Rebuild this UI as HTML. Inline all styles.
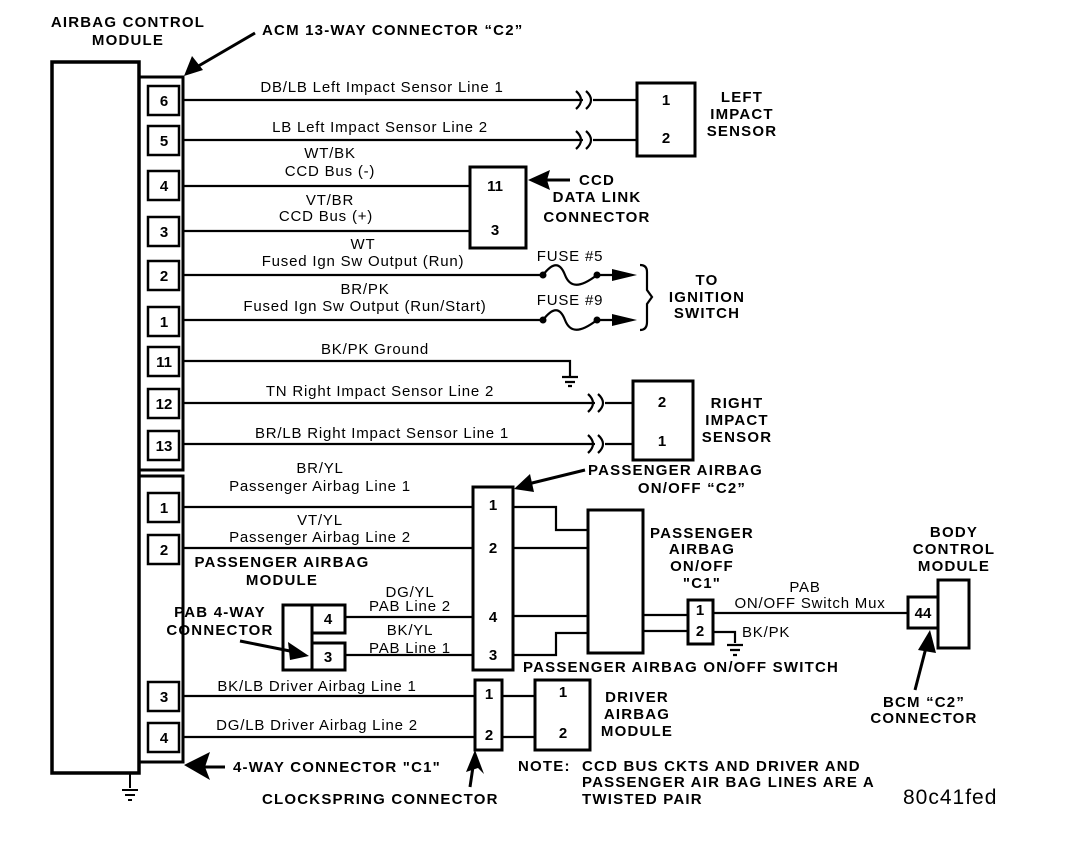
<!DOCTYPE html>
<html><head><meta charset="utf-8"><style>
html,body{margin:0;padding:0;background:#fff}
svg{display:block}
text{font-family:"Liberation Sans",Arial,sans-serif;fill:#000}
.b{font-weight:bold;font-size:15px;letter-spacing:1.2px}
.r{font-size:15px;letter-spacing:0.8px}
.p{font-weight:bold;font-size:15px}
</style></head><body>
<svg width="1088" height="862" viewBox="0 0 1088 862" xmlns="http://www.w3.org/2000/svg">
<g fill="none" stroke="#000">
<rect x="52" y="62" width="87" height="711" stroke-width="3.5"/>
<path d="M139 77 H183 V470 H139" stroke-width="3"/>
<path d="M139 476 H183 V762 H139" stroke-width="3"/>
<path d="M130 773 V788 M122 790 H138 M125 795 H135 M128 800 H132" stroke-width="2"/>
<g stroke-width="2.5">
<rect x="148" y="86" width="31" height="29"/>
<rect x="148" y="126" width="31" height="29"/>
<rect x="148" y="171" width="31" height="29"/>
<rect x="148" y="217" width="31" height="29"/>
<rect x="148" y="261" width="31" height="29"/>
<rect x="148" y="307" width="31" height="29"/>
<rect x="148" y="347" width="31" height="29"/>
<rect x="148" y="389" width="31" height="29"/>
<rect x="148" y="431" width="31" height="29"/>
<rect x="148" y="493" width="31" height="29"/>
<rect x="148" y="535" width="31" height="29"/>
<rect x="148" y="682" width="31" height="29"/>
<rect x="148" y="723" width="31" height="29"/>
</g>
<g stroke-width="2.2">
<path d="M183 100 H583 M593 100 H637"/>
<path d="M183 140 H583 M593 140 H637"/>
<path d="M576 91 Q586 100 576 109 M586 91 Q596 100 586 109"/>
<path d="M576 131 Q586 140 576 149 M586 131 Q596 140 586 149"/>
<path d="M183 186 H470 M183 231 H470"/>
<path d="M183 275 H543 M183 320 H543"/>
<path d="M543 275 C553 262 560 262 565 275 C570 288 580 288 597 275 H615"/>
<path d="M543 320 C553 307 560 307 565 320 C570 333 580 333 597 320 H615"/>
<path d="M183 361 H570 V376 M562 377 H578 M565 382 H575 M568 386 H572"/>
<path d="M183 403 H595 M605 403 H633"/>
<path d="M183 444 H595 M605 444 H633"/>
<path d="M588 394 Q598 403 588 412 M598 394 Q608 403 598 412"/>
<path d="M588 435 Q598 444 588 453 M598 435 Q608 444 598 453"/>
<path d="M640 265 Q647 265 647 272 V290 L652 297 L647 304 V322 Q647 330 640 330"/>
<path d="M183 507 H473 M183 548 H473 M345 617 H473 M345 655 H473"/>
<path d="M513 507 H556 V530 H588 M513 548 H588 M513 616 H588 M513 655 H556 V633 H588"/>
<path d="M643 615 H688 M643 631 H688"/>
<path d="M713 613 H908"/>
<path d="M713 632 H735 V643 M727 645 H743 M730 650 H740 M733 655 H737"/>
<path d="M183 696 H475 M183 737 H475 M502 696 H535 M502 737 H535"/>
</g>
<g stroke-width="3">
<rect x="637" y="83" width="58" height="73"/>
<rect x="470" y="167" width="56" height="81"/>
<rect x="633" y="381" width="60" height="79"/>
<rect x="473" y="487" width="40" height="183"/>
<rect x="588" y="510" width="55" height="143"/>
<rect x="688" y="600" width="25" height="44"/>
<rect x="908" y="597" width="30" height="31"/>
<rect x="938" y="580" width="31" height="68"/>
<rect x="475" y="680" width="27" height="70"/>
<rect x="535" y="680" width="55" height="70"/>
<rect x="283" y="605" width="29" height="65"/>
<rect x="312" y="605" width="33" height="28"/>
<rect x="312" y="643" width="33" height="27"/>
</g>
<g stroke-width="3">
<path d="M255 33 L195 68"/>
<path d="M570 180 H540"/>
<path d="M585 470 L528 484"/>
<path d="M240 641 L295 652"/>
<path d="M225 767 H198"/>
<path d="M470 787 L474 760"/>
<path d="M915 690 L928 640"/>
</g>
</g>
<g fill="#000">
<circle cx="543" cy="275" r="3.5"/><circle cx="597" cy="275" r="3.5"/>
<circle cx="543" cy="320" r="3.5"/><circle cx="597" cy="320" r="3.5"/>
<path d="M612 269 L637 275 L612 281Z"/>
<path d="M612 314 L637 320 L612 326Z"/>
<path d="M184 76 L192 56 L203 70Z"/>
<path d="M528 180 L550 170 L547 180 L550 190Z"/>
<path d="M514 489 L530 474 L534 492Z"/>
<path d="M309 656 L288 642 L290 660Z"/>
<path d="M184 765 L210 752 L205 767 L210 780Z"/>
<path d="M475 750 L466 772 L478 768 L484 774Z"/>
<path d="M930 630 L918 650 L936 653Z"/>
</g>
<g class="b">
<text x="128" y="27" text-anchor="middle">AIRBAG CONTROL</text>
<text x="128" y="45" text-anchor="middle">MODULE</text>
<text x="262" y="35">ACM 13-WAY CONNECTOR “C2”</text>
<text x="742" y="102" text-anchor="middle">LEFT</text>
<text x="742" y="119" text-anchor="middle">IMPACT</text>
<text x="742" y="136" text-anchor="middle">SENSOR</text>
<text x="597" y="185" text-anchor="middle">CCD</text>
<text x="597" y="202" text-anchor="middle">DATA LINK</text>
<text x="597" y="222" text-anchor="middle">CONNECTOR</text>
<text x="707" y="285" text-anchor="middle">TO</text>
<text x="707" y="302" text-anchor="middle">IGNITION</text>
<text x="707" y="318" text-anchor="middle">SWITCH</text>
<text x="737" y="408" text-anchor="middle">RIGHT</text>
<text x="737" y="425" text-anchor="middle">IMPACT</text>
<text x="737" y="442" text-anchor="middle">SENSOR</text>
<text x="588" y="475">PASSENGER AIRBAG</text>
<text x="692" y="493" text-anchor="middle">ON/OFF “C2”</text>
<text x="702" y="538" text-anchor="middle">PASSENGER</text>
<text x="702" y="554" text-anchor="middle">AIRBAG</text>
<text x="702" y="571" text-anchor="middle">ON/OFF</text>
<text x="702" y="588" text-anchor="middle">"C1"</text>
<text x="954" y="537" text-anchor="middle">BODY</text>
<text x="954" y="554" text-anchor="middle">CONTROL</text>
<text x="954" y="571" text-anchor="middle">MODULE</text>
<text x="282" y="567" text-anchor="middle">PASSENGER AIRBAG</text>
<text x="282" y="585" text-anchor="middle">MODULE</text>
<text x="220" y="617" text-anchor="middle">PAB 4-WAY</text>
<text x="220" y="635" text-anchor="middle">CONNECTOR</text>
<text x="523" y="672">PASSENGER AIRBAG ON/OFF SWITCH</text>
<text x="637" y="702" text-anchor="middle">DRIVER</text>
<text x="637" y="719" text-anchor="middle">AIRBAG</text>
<text x="637" y="736" text-anchor="middle">MODULE</text>
<text x="924" y="707" text-anchor="middle">BCM “C2”</text>
<text x="924" y="723" text-anchor="middle">CONNECTOR</text>
<text x="233" y="772">4-WAY CONNECTOR "C1"</text>
<text x="262" y="804">CLOCKSPRING CONNECTOR</text>
<text x="518" y="771">NOTE:</text>
<text x="582" y="771">CCD BUS CKTS AND DRIVER AND</text>
<text x="582" y="787">PASSENGER AIR BAG LINES ARE A</text>
<text x="582" y="804">TWISTED PAIR</text>
</g>
<g class="p" text-anchor="middle">
<text x="164" y="106">6</text><text x="164" y="146">5</text><text x="164" y="191">4</text>
<text x="164" y="237">3</text><text x="164" y="281">2</text><text x="164" y="327">1</text>
<text x="164" y="367">11</text><text x="164" y="409">12</text><text x="164" y="451">13</text>
<text x="164" y="513">1</text><text x="164" y="555">2</text><text x="164" y="702">3</text><text x="164" y="743">4</text>
<text x="666" y="105">1</text><text x="666" y="143">2</text>
<text x="495" y="191">11</text><text x="495" y="235">3</text>
<text x="662" y="407">2</text><text x="662" y="446">1</text>
<text x="493" y="510">1</text><text x="493" y="553">2</text><text x="493" y="622">4</text><text x="493" y="660">3</text>
<text x="328" y="624">4</text><text x="328" y="662">3</text>
<text x="700" y="615">1</text><text x="700" y="636">2</text>
<text x="923" y="618">44</text>
<text x="489" y="699">1</text><text x="489" y="740">2</text>
<text x="563" y="697">1</text><text x="563" y="738">2</text>
</g>
<g class="r" text-anchor="middle">
<text x="382" y="92">DB/LB  Left Impact Sensor Line 1</text>
<text x="380" y="132">LB  Left Impact Sensor Line 2</text>
<text x="330" y="158">WT/BK</text><text x="330" y="176">CCD Bus (-)</text>
<text x="330" y="205">VT/BR</text><text x="326" y="221">CCD Bus (+)</text>
<text x="363" y="249">WT</text><text x="363" y="266">Fused Ign Sw Output (Run)</text>
<text x="365" y="294">BR/PK</text><text x="365" y="311">Fused Ign Sw Output (Run/Start)</text>
<text x="375" y="354">BK/PK  Ground</text>
<text x="380" y="396">TN  Right Impact Sensor Line 2</text>
<text x="382" y="438">BR/LB  Right Impact Sensor Line 1</text>
<text x="320" y="473">BR/YL</text><text x="320" y="491">Passenger Airbag Line 1</text>
<text x="320" y="525">VT/YL</text><text x="320" y="542">Passenger Airbag Line 2</text>
<text x="410" y="597">DG/YL</text><text x="410" y="611">PAB Line 2</text>
<text x="410" y="635">BK/YL</text><text x="410" y="653">PAB Line 1</text>
<text x="317" y="691">BK/LB  Driver Airbag Line 1</text>
<text x="317" y="730">DG/LB  Driver Airbag Line 2</text>
<text x="570" y="261">FUSE #5</text><text x="570" y="305">FUSE #9</text>
<text x="805" y="592">PAB</text><text x="810" y="608">ON/OFF Switch Mux</text>
</g>
<text class="r" x="742" y="637">BK/PK</text>
<text x="903" y="804" style="font-size:21px;letter-spacing:1px">80c41fed</text>
</svg>
</body></html>
